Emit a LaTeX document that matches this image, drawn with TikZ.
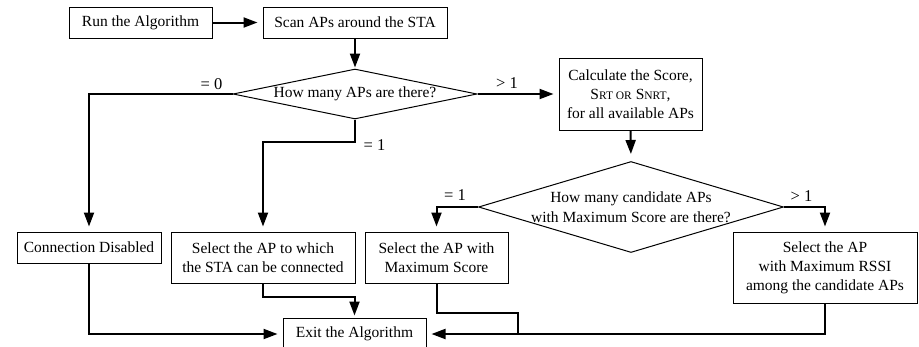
\documentclass[tikz,border=0pt]{standalone}
\usepackage{fontspec}
\setmainfont{Liberation Serif}
\usetikzlibrary{shapes.geometric,arrows.meta}
\newcommand\smcap[1]{{\fontsize{11.5pt}{19pt}\selectfont #1}}
\begin{document}
\begin{tikzpicture}[x=1pt,y=-1pt,
  box/.style={draw, line width=1pt, rectangle, inner sep=0pt, align=center,
    font=\fontsize{15.5pt}{19pt}\selectfont},
  dia/.style={draw, line width=1pt, diamond, inner sep=0pt},
  diatext/.style={align=center, font=\fontsize{15.5pt}{19.5pt}\selectfont},
  conn/.style={line width=2pt, -{Triangle[length=14pt,width=10pt]}, shorten >=5pt},
  plain/.style={line width=2pt},
  lbl/.style={font=\fontsize{16.5pt}{19pt}\selectfont}]
\useasboundingbox (0,0) rectangle (919,346);
% boxes
\node[box, minimum width=143pt, minimum height=31pt] (run) at (140.5,22.5) {Run the Algorithm};
\node[box, minimum width=184pt, minimum height=31pt] (scan) at (355,22.5) {Scan APs around the STA};
\node[dia, minimum width=244pt, minimum height=50pt] (d1) at (355,94) {};
\node[diatext] (d1t) at (355,94) {How many APs are there?};
\node[box, minimum width=143pt, minimum height=72pt] (calc) at (630.5,94)
  {Calculate the Score,\\S\smcap{RT OR} S\smcap{NRT},\\for all available APs};
\node[dia, minimum width=305pt, minimum height=91pt] (d2) at (631,207) {};
\node[diatext] (d2t) at (631,207) {How many candidate APs\\with Maximum Score are there?};
\node[box, minimum width=144pt, minimum height=31pt] (cd) at (89,247.5) {Connection Disabled};
\node[box, minimum width=184pt, minimum height=51pt] (sel) at (263,257.5)
  {Select the AP to which\\the STA can be connected};
\node[box, minimum width=143pt, minimum height=51pt] (selmax) at (436.5,257.5)
  {Select the AP with\\Maximum Score};
\node[box, minimum width=184pt, minimum height=71pt] (rssi) at (825,267.5)
  {Select the AP\\with Maximum RSSI\\among the candidate APs};
\node[box, minimum width=143pt, minimum height=32pt] (exit) at (354.5,334) {Exit the Algorithm};
\coordinate (jn) at (518,334);
% labels
\node[lbl] (l0) at (211.5,84) {= 0};
\node[lbl] (lg1) at (507,83) {> 1};
\node[lbl] (le1) at (374.5,145) {= 1};
\node[lbl] (le2) at (455,195) {= 1};
\node[lbl] (lg2) at (801.5,196) {> 1};
% connectors
\draw[conn] (run) -- (scan);
\draw[conn, shorten >=1pt] (scan.south) -- (d1.north);
\draw[conn] (d1.east) -- (calc.west);
\draw[conn] (d1.west) -| (cd.north);
\draw[conn] (d1.south) -- ++(0,22) -| (sel.north);
\draw[conn, shorten >=7pt] (calc.south) -- (d2.north);
\draw[conn] (d2.west) -| (selmax.north);
\draw[conn] (d2.east) -| (rssi.north);
\draw[conn] (cd.south) |- (exit.west);
\draw[conn, shorten >=2pt] (sel.south) -- ++(0,13) -| (exit.north);
\draw[conn] (rssi.south) |- (exit.east);
\draw[plain] (selmax.south) -- ++(0,29) -| (jn);
\end{tikzpicture}
\end{document}
